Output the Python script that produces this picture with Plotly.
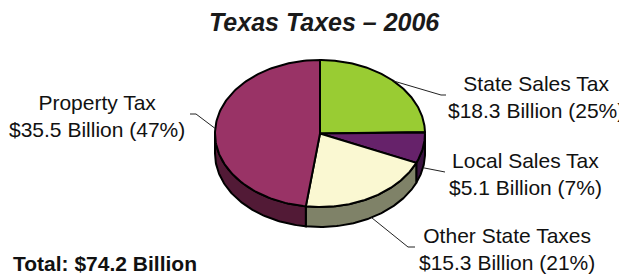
import numpy as np
import plotly.graph_objects as go

# ---------------- data ----------------
categories = ["State Sales Tax", "Local Sales Tax", "Other State Taxes", "Property Tax"]
values = [18.3, 5.1, 15.3, 35.5]          # $ billions
percent_text = ["25%", "7%", "21%", "47%"]
top_colors = ["#99CC33", "#66226A", "#FAF8D2", "#993366"]
side_colors = ["#4D6619", "#3A1340", "#7F8268", "#521A36"]

title_text = "Texas Taxes – 2006"

# ---------------- geometry (layout constants, page-pixel axes) ----------------
PAGE_W, PAGE_H = 627, 275
BODY_MARGIN = 8                      # default page body margin
W, H = PAGE_W - BODY_MARGIN, PAGE_H - BODY_MARGIN
cx, cy = 320, 133.5      # centre of pie top
a, b = 105, 73.5         # ellipse radii
depth = 20               # thickness of the pie

# label anchor positions (centre x, centre y) and leader elbows
label_pos = {
    "State Sales Tax": (536, 97),
    "Local Sales Tax": (525, 174),
    "Other State Taxes": (507, 249),
    "Property Tax": (97, 116),
}
leader_ends = {
    "State Sales Tax": [(441, 95), (446, 95)],
    "Local Sales Tax": [(445, 172)],
    "Other State Taxes": [(408, 247), (415, 247)],
    "Property Tax": [(196, 114), (190, 114)],
}


def ell(t_deg, dy=0.0):
    t = np.radians(t_deg)
    return cx + a * np.sin(t), cy - b * np.cos(t) + dy


total = sum(values)
cum = np.concatenate([[0], np.cumsum(values)])
angles = 360 * cum / total

fig = go.Figure()

# sides (only the front half, 90..270 deg, is visible)
for i, name in enumerate(categories):
    t1, t2 = angles[i], angles[i + 1]
    s, e = max(t1, 90), min(t2, 270)
    if s >= e:
        continue
    ts = np.linspace(s, e, 80)
    xs_top, ys_top = ell(ts)
    xs_bot, ys_bot = ell(ts[::-1], depth)
    xs = np.concatenate([xs_top, xs_bot, xs_top[:1]])
    ys = np.concatenate([ys_top, ys_bot, ys_top[:1]])
    fig.add_trace(go.Scatter(x=xs, y=ys, mode="lines", fill="toself",
                             fillcolor=side_colors[i],
                             line=dict(color="black", width=2),
                             hoverinfo="skip", showlegend=False))

# tops
for i, name in enumerate(categories):
    t1, t2 = angles[i], angles[i + 1]
    ts = np.linspace(t1, t2, 120)
    xs, ys = ell(ts)
    xs = np.concatenate([[cx], xs, [cx]])
    ys = np.concatenate([[cy], ys, [cy]])
    fig.add_trace(go.Scatter(x=xs, y=ys, mode="lines", fill="toself",
                             fillcolor=top_colors[i],
                             line=dict(color="black", width=2),
                             name=name,
                             hovertemplate=f"{name}: ${values[i]} Billion<extra></extra>",
                             showlegend=False))

# leader lines, starting at each slice's mid-angle on the pie edge
for i, name in enumerate(categories):
    mid = (angles[i] + angles[i + 1]) / 2
    front = 90 < mid < 270
    x0, y0 = ell(mid, depth if front else 0)
    pts = [(x0, y0)] + leader_ends[name]
    fig.add_trace(go.Scatter(x=[p[0] for p in pts], y=[p[1] for p in pts],
                             mode="lines", line=dict(color="#222222", width=1),
                             hoverinfo="skip", showlegend=False))

font_family = "Liberation Sans, Arial, sans-serif"
annotations = []
for i, name in enumerate(categories):
    lx, ly = label_pos[name]
    annotations.append(dict(
        x=lx, y=ly, xref="x", yref="y", showarrow=False,
        xanchor="center", yanchor="middle", align="center",
        text=f"{name}<br>${values[i]} Billion ({percent_text[i]})",
        font=dict(family=font_family, size=21, color="#111111")))

annotations.append(dict(
    x=324, y=22, xref="x", yref="y", showarrow=False,
    xanchor="center", yanchor="middle",
    text=f"<b><i>{title_text}</i></b>",
    font=dict(family=font_family, size=25, color="#1a1a1a")))

annotations.append(dict(
    x=11, y=263, xref="x", yref="y", showarrow=False,
    xanchor="left", yanchor="middle",
    text=f"<b>Total: ${total:.1f} Billion</b>",
    font=dict(family=font_family, size=21, color="#111111")))

fig.update_layout(
    width=W, height=H,
    margin=dict(l=0, r=0, t=0, b=0),
    paper_bgcolor="white", plot_bgcolor="white",
    xaxis=dict(range=[BODY_MARGIN, PAGE_W], visible=False, fixedrange=True),
    yaxis=dict(range=[PAGE_H, BODY_MARGIN], visible=False, fixedrange=True),
    annotations=annotations,
)

fig.write_html("out.html")
